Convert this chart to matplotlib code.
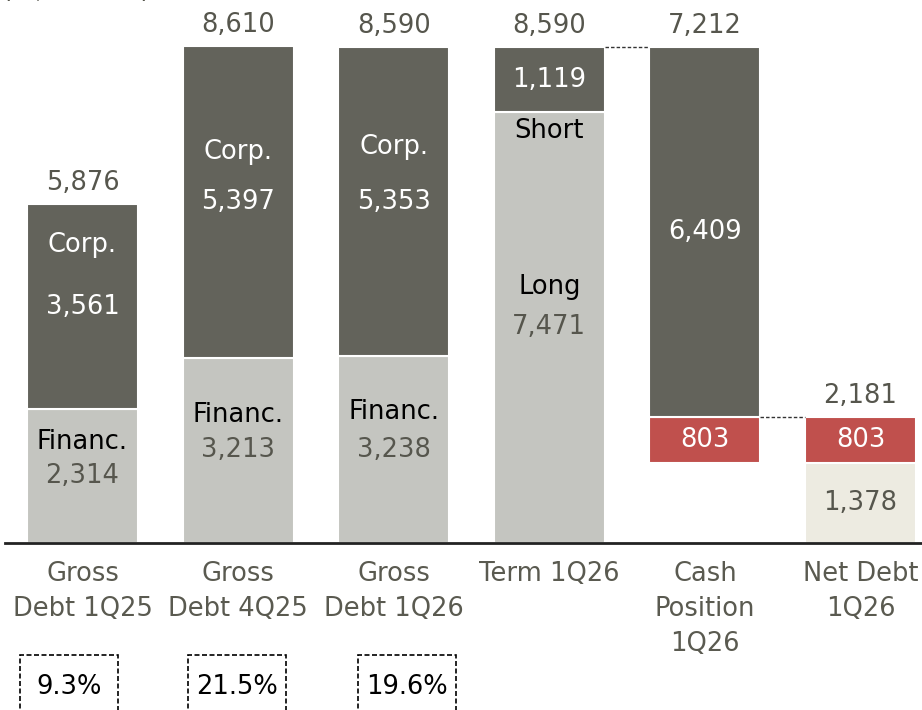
"""
Debt breakdown chart: gross debt by quarter, term split, cash and net debt.
"""

import matplotlib
matplotlib.use("Agg")
import matplotlib.pyplot as plt
from matplotlib.patches import Rectangle

# ---------------------------------------------------------------------------
# Data (R$ million)
# ---------------------------------------------------------------------------
categories = ["Gross\nDebt 1Q25", "Gross\nDebt 4Q25", "Gross\nDebt 1Q26",
              "Term 1Q26", "Cash\nPosition\n1Q26", "Net Debt\n1Q26"]
gross_financ = [2314, 3213, 3238]
gross_corp = [3561, 5397, 5353]
gross_total = [5876, 8610, 8590]
term_long = 7471
term_short = 1119
term_total = 8590
cash_corp = 6409
cash_financ = 803
cash_total = 7212
net_financ = 803
net_other = 1378
net_total = 2181
ratios = ["9.3%", "21.5%", "19.6%"]

# ---------------------------------------------------------------------------
# Style
# ---------------------------------------------------------------------------
PALETTE = {
    "dark": "#63635b",
    "light": "#c4c5c0",
    "red": "#c0504d",
    "beige": "#edebe1",
    "value": "#56564d",
    "label": "#5a5a50",
    "axis": "#222222",
}
FS = 18.5
W = 0.713
plt.rcParams["font.family"] = ["DejaVu Sans"]

fig = plt.figure(figsize=(9.22, 7.10), dpi=100)
ax = fig.add_axes([0, 0, 1, 1])
ax.set_xlim(-0.530, 5.395)
ax.set_ylim(-2894, 9410)
ax.axis("off")

x = list(range(len(categories)))
bar_kw = dict(width=W, edgecolor="white", linewidth=1.5)

# Gross debt bars
ax.bar(x[:3], gross_financ, color=PALETTE["light"], **bar_kw)
ax.bar(x[:3], gross_corp, bottom=gross_financ, color=PALETTE["dark"], **bar_kw)

# Term bar
ax.bar(x[3], term_long, color=PALETTE["light"], **bar_kw)
ax.bar(x[3], term_short, bottom=term_long, color=PALETTE["dark"], **bar_kw)

# Cash position (floating)
cash_bottom = term_total - cash_total
ax.bar(x[4], cash_financ, bottom=cash_bottom, color=PALETTE["red"], **bar_kw)
ax.bar(x[4], cash_corp, bottom=cash_bottom + cash_financ,
       color=PALETTE["dark"], **bar_kw)

# Net debt
ax.bar(x[5], net_other, color=PALETTE["beige"], **bar_kw)
ax.bar(x[5], net_financ, bottom=net_other, color=PALETTE["red"], **bar_kw)

# Baseline
ax.axhline(0, xmin=0.005, xmax=1, color=PALETTE["axis"], linewidth=2)

# Connectors
dash = dict(color="#333333", linewidth=1, linestyle=(0, (2.5, 1.5)))
ax.plot([x[3] + W / 2, x[4] - W / 2], [term_total, term_total], **dash)
ax.plot([x[4] + W / 2, x[5] - W / 2], [net_total, net_total], **dash)

def fmt(v):
    return f"{v:,}"

PX = 17.33  # data units per pixel

# Totals above bars
tops = gross_total + [term_total, term_total, net_total]
totals = gross_total + [term_total, cash_total, net_total]
for xi, top, val in zip(x, tops, totals):
    ax.text(xi, top + 21 * PX, fmt(val), ha="center", va="center",
            fontsize=FS, color=PALETTE["value"])

# Gross debt segment labels
corp_lbl_off = [62, 50, 55]
fin_lbl_off = [34, 35, 38]
for i in range(3):
    cy = gross_financ[i] + gross_corp[i] / 2
    ax.text(x[i], cy, fmt(gross_corp[i]), ha="center", va="center",
            fontsize=FS, color="white")
    ax.text(x[i], cy + corp_lbl_off[i] * PX, "Corp.", ha="center",
            va="center", fontsize=FS, color="white")
    fy = gross_financ[i] / 2
    ax.text(x[i], fy, fmt(gross_financ[i]), ha="center", va="center",
            fontsize=FS, color=PALETTE["value"])
    ax.text(x[i], fy + fin_lbl_off[i] * PX, "Financ.", ha="center",
            va="center", fontsize=FS, color="black")

# Term labels
ax.text(x[3], term_long + term_short / 2, fmt(term_short), ha="center",
        va="center", fontsize=FS, color="white")
ax.text(x[3], term_long - 19 * PX, "Short", ha="center", va="center",
        fontsize=FS, color="black")
ax.text(x[3], term_long / 2, fmt(term_long), ha="center", va="center",
        fontsize=FS, color=PALETTE["value"])
ax.text(x[3], term_long / 2 + 40 * PX, "Long", ha="center", va="center",
        fontsize=FS, color="black")

# Cash labels
ax.text(x[4], cash_bottom + cash_financ + cash_corp / 2, fmt(cash_corp),
        ha="center", va="center", fontsize=FS, color="white")
ax.text(x[4], cash_bottom + cash_financ / 2, fmt(cash_financ),
        ha="center", va="center", fontsize=FS, color="white")

# Net debt labels
ax.text(x[5], net_other + net_financ / 2, fmt(net_financ),
        ha="center", va="center", fontsize=FS, color="white")
ax.text(x[5], net_other / 2, fmt(net_other),
        ha="center", va="center", fontsize=FS, color=PALETTE["value"])

# Category labels
for xi, cat in zip(x, categories):
    ax.text(xi, -18 * PX, cat, ha="center", va="top", fontsize=FS,
            color=PALETTE["label"], linespacing=1.45)

# Ratio boxes (pixel positions)
box_left = [20, 188, 358]
box_w = 98
for bl, r in zip(box_left, ratios):
    x0 = bl / 922
    y0 = (710 - 655) / 710
    ax.add_patch(Rectangle((x0, -0.02), box_w / 922, y0 + 0.02,
                           transform=ax.transAxes, fill=False,
                           edgecolor="black", linewidth=1.2,
                           linestyle=(0, (3, 1.5)), clip_on=False))
    ax.text(x0 + box_w / 922 / 2, (710 - 687) / 710, r, ha="center",
            va="center", fontsize=FS, color="black", transform=ax.transAxes)

# Unit label, cut at the top edge as in the source slide
ax.text(0.002, 1.0 + 3 / 710, "(R$ million)", ha="left", va="baseline",
        fontsize=FS, color=PALETTE["value"], transform=ax.transAxes)

fig.savefig("out.png", dpi=100)
